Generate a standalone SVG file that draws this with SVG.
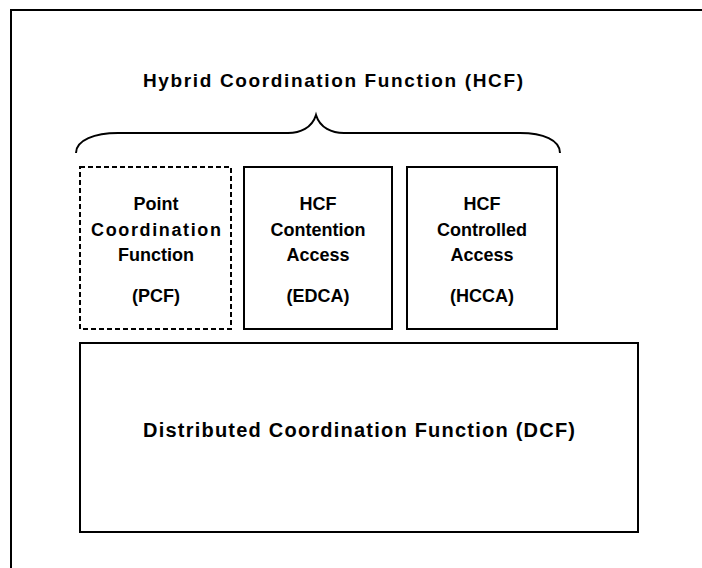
<svg xmlns="http://www.w3.org/2000/svg" width="702" height="568" viewBox="0 0 702 568">
  <style>
    .frame { fill: none; stroke: #000; stroke-width: 2; }
    .box { fill: #fff; stroke: #000; stroke-width: 2; }
    .dashed { stroke-dasharray: 5 3; }
    .title { font-family: "Liberation Sans", Arial, sans-serif; font-size: 19px; font-weight: bold; fill: #000; text-anchor: middle; }
    .label { font-family: "Liberation Sans", Arial, sans-serif; font-size: 18px; font-weight: bold; fill: #000; text-anchor: middle; }
    .big { font-family: "Liberation Sans", Arial, sans-serif; font-size: 20px; font-weight: bold; fill: #000; text-anchor: middle; }
  </style>
  <rect width="702" height="568" fill="#fff"/>

  <!-- outer frame, open to the right and bottom -->
  <path class="frame" d="M11,568 L11,10 L702,10"/>

  <!-- HCF title and brace -->
  <g id="hcf">
    <text class="title" x="333" y="87" textLength="380" lengthAdjust="spacing">Hybrid Coordination Function (HCF)</text>
    <path class="frame" d="M76,153 C76,140 95,133 118,133 L288,133 C300,133 312,128 316,115 C320,128 332,133 344,133 L520,133 C543,133 560,140 560,153"/>
  </g>

  <g id="pcf">
    <rect class="box dashed" x="80" y="167" width="151" height="162"/>
    <text class="label" x="156" y="210">Point</text>
    <text class="label" x="156" y="236" textLength="130" lengthAdjust="spacing">Coordination</text>
    <text class="label" x="156" y="261">Function</text>
    <text class="label" x="156" y="302">(PCF)</text>
  </g>

  <g id="edca">
    <rect class="box" x="244" y="167" width="148" height="162"/>
    <text class="label" x="318" y="210">HCF</text>
    <text class="label" x="318" y="236">Contention</text>
    <text class="label" x="318" y="261">Access</text>
    <text class="label" x="318" y="302">(EDCA)</text>
  </g>

  <g id="hcca">
    <rect class="box" x="407" y="167" width="150" height="162"/>
    <text class="label" x="482" y="210">HCF</text>
    <text class="label" x="482" y="236">Controlled</text>
    <text class="label" x="482" y="261">Access</text>
    <text class="label" x="482" y="302">(HCCA)</text>
  </g>

  <g id="dcf">
    <rect class="box" x="80" y="343" width="558" height="189"/>
    <text class="big" x="359" y="437" textLength="432" lengthAdjust="spacing">Distributed Coordination Function (DCF)</text>
  </g>

  <g id="connectors"></g>
</svg>
